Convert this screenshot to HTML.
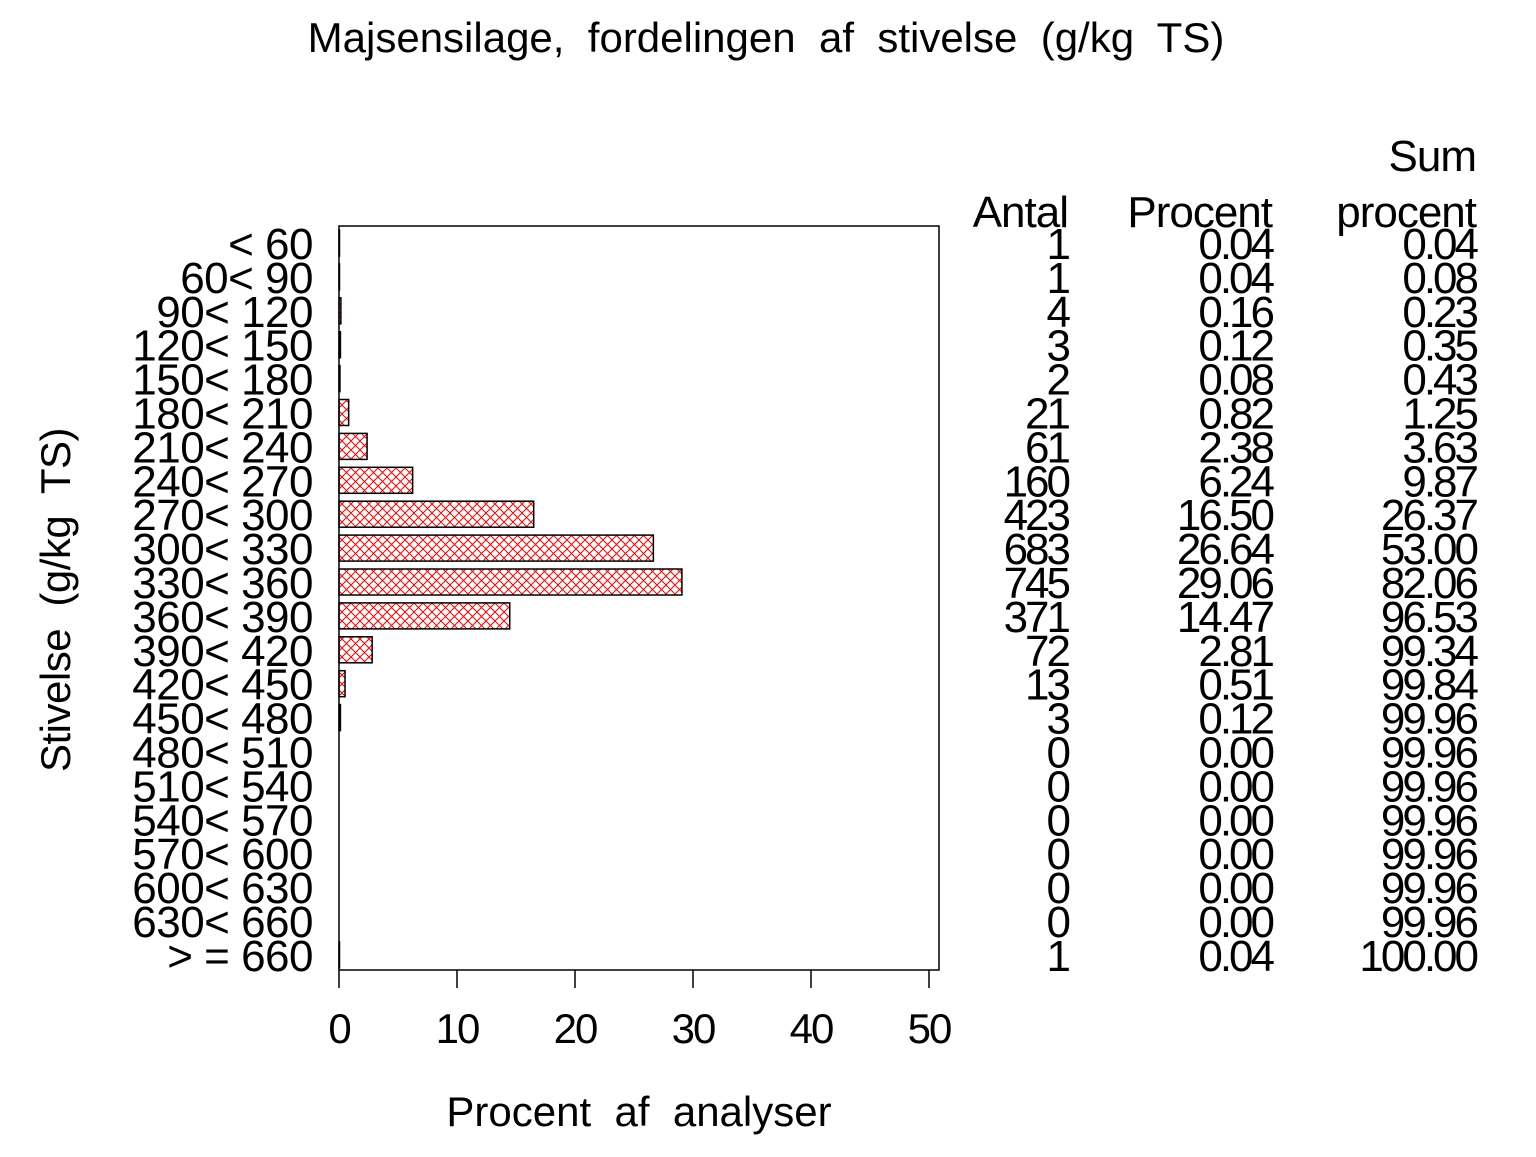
<!DOCTYPE html>
<html><head><meta charset="utf-8"><style>
html,body{margin:0;padding:0;background:#fff}
svg text{font-family:"Liberation Sans",sans-serif;fill:#000;white-space:pre}
</style></head><body>
<svg width="1536" height="1152" viewBox="0 0 1536 1152" xmlns="http://www.w3.org/2000/svg" xml:space="preserve">
<defs>
<pattern id="h" width="9" height="9" patternUnits="userSpaceOnUse">
<path d="M0,0L9,9M9,0L0,9" stroke="#f00" stroke-width="1" fill="none"/>
</pattern>
</defs>
<text x="766" y="52" font-size="42" text-anchor="middle" letter-spacing="0">Majsensilage,  fordelingen  af  stivelse  (g/kg  TS)</text>
<rect x="339" y="226" width="600" height="744" fill="none" stroke="#000" stroke-width="1.5"/>
<g stroke="#000" stroke-width="1.5">
<line x1="339" y1="970" x2="339" y2="988"/><line x1="457" y1="970" x2="457" y2="988"/>
<line x1="575" y1="970" x2="575" y2="988"/><line x1="693" y1="970" x2="693" y2="988"/>
<line x1="811" y1="970" x2="811" y2="988"/><line x1="929" y1="970" x2="929" y2="988"/>
</g>
<g font-size="42" text-anchor="middle" letter-spacing="-2">
<text x="339" y="1043">0</text><text x="457" y="1043">10</text><text x="575" y="1043">20</text>
<text x="693" y="1043">30</text><text x="811" y="1043">40</text><text x="929" y="1043">50</text>
</g>
<text x="639" y="1126" font-size="42" text-anchor="middle" letter-spacing="0">Procent  af  analyser</text>
<text transform="translate(70,600) rotate(-90)" font-size="42" text-anchor="middle" letter-spacing="-0.5">Stivelse  (g/kg  TS)</text>
<g id="bars" stroke="#000" stroke-width="1.5" fill="url(#h)"></g>
<g id="lab" font-size="44" text-anchor="end" letter-spacing="-0.5"></g>
<g id="tab" font-size="44" text-anchor="end" letter-spacing="-3"></g>
<g font-size="44" text-anchor="end" letter-spacing="-1">
<text x="1068" y="227">Antal</text>
<text x="1272" y="227">Procent</text>
<text x="1476" y="171">Sum</text>
<text x="1476" y="227">procent</text>
</g>
</svg>
<script>
var labs=["< 60","60< 90","90< 120","120< 150","150< 180","180< 210","210< 240","240< 270","270< 300","300< 330","330< 360","360< 390","390< 420","420< 450","450< 480","480< 510","510< 540","540< 570","570< 600","600< 630","630< 660","> = 660"];
var a=[1,1,4,3,2,21,61,160,423,683,745,371,72,13,3,0,0,0,0,0,0,1];
var p=["0.04","0.04","0.16","0.12","0.08","0.82","2.38","6.24","16.50","26.64","29.06","14.47","2.81","0.51","0.12","0.00","0.00","0.00","0.00","0.00","0.00","0.04"];
var s=["0.04","0.08","0.23","0.35","0.43","1.25","3.63","9.87","26.37","53.00","82.06","96.53","99.34","99.84","99.96","99.96","99.96","99.96","99.96","99.96","99.96","100.00"];
var NS="http://www.w3.org/2000/svg";
function t(g,x,y,str){var e=document.createElementNS(NS,"text");e.setAttribute("x",x);e.setAttribute("y",y);e.textContent=str;document.getElementById(g).appendChild(e);}
for(var i=0;i<22;i++){
var cy=243+33.9*i, by=cy+16;
t("lab",313,by,labs[i]);
t("tab",1068,by,String(a[i]));
t("tab",1272,by,p[i]);
t("tab",1476,by,s[i]);
var w=parseFloat(p[i])*11.8;
if(w>0){var r=document.createElementNS(NS,"rect");r.setAttribute("x",339);r.setAttribute("y",cy-13);r.setAttribute("width",w);r.setAttribute("height",26);document.getElementById("bars").appendChild(r);}
}
</script>
</body></html>
